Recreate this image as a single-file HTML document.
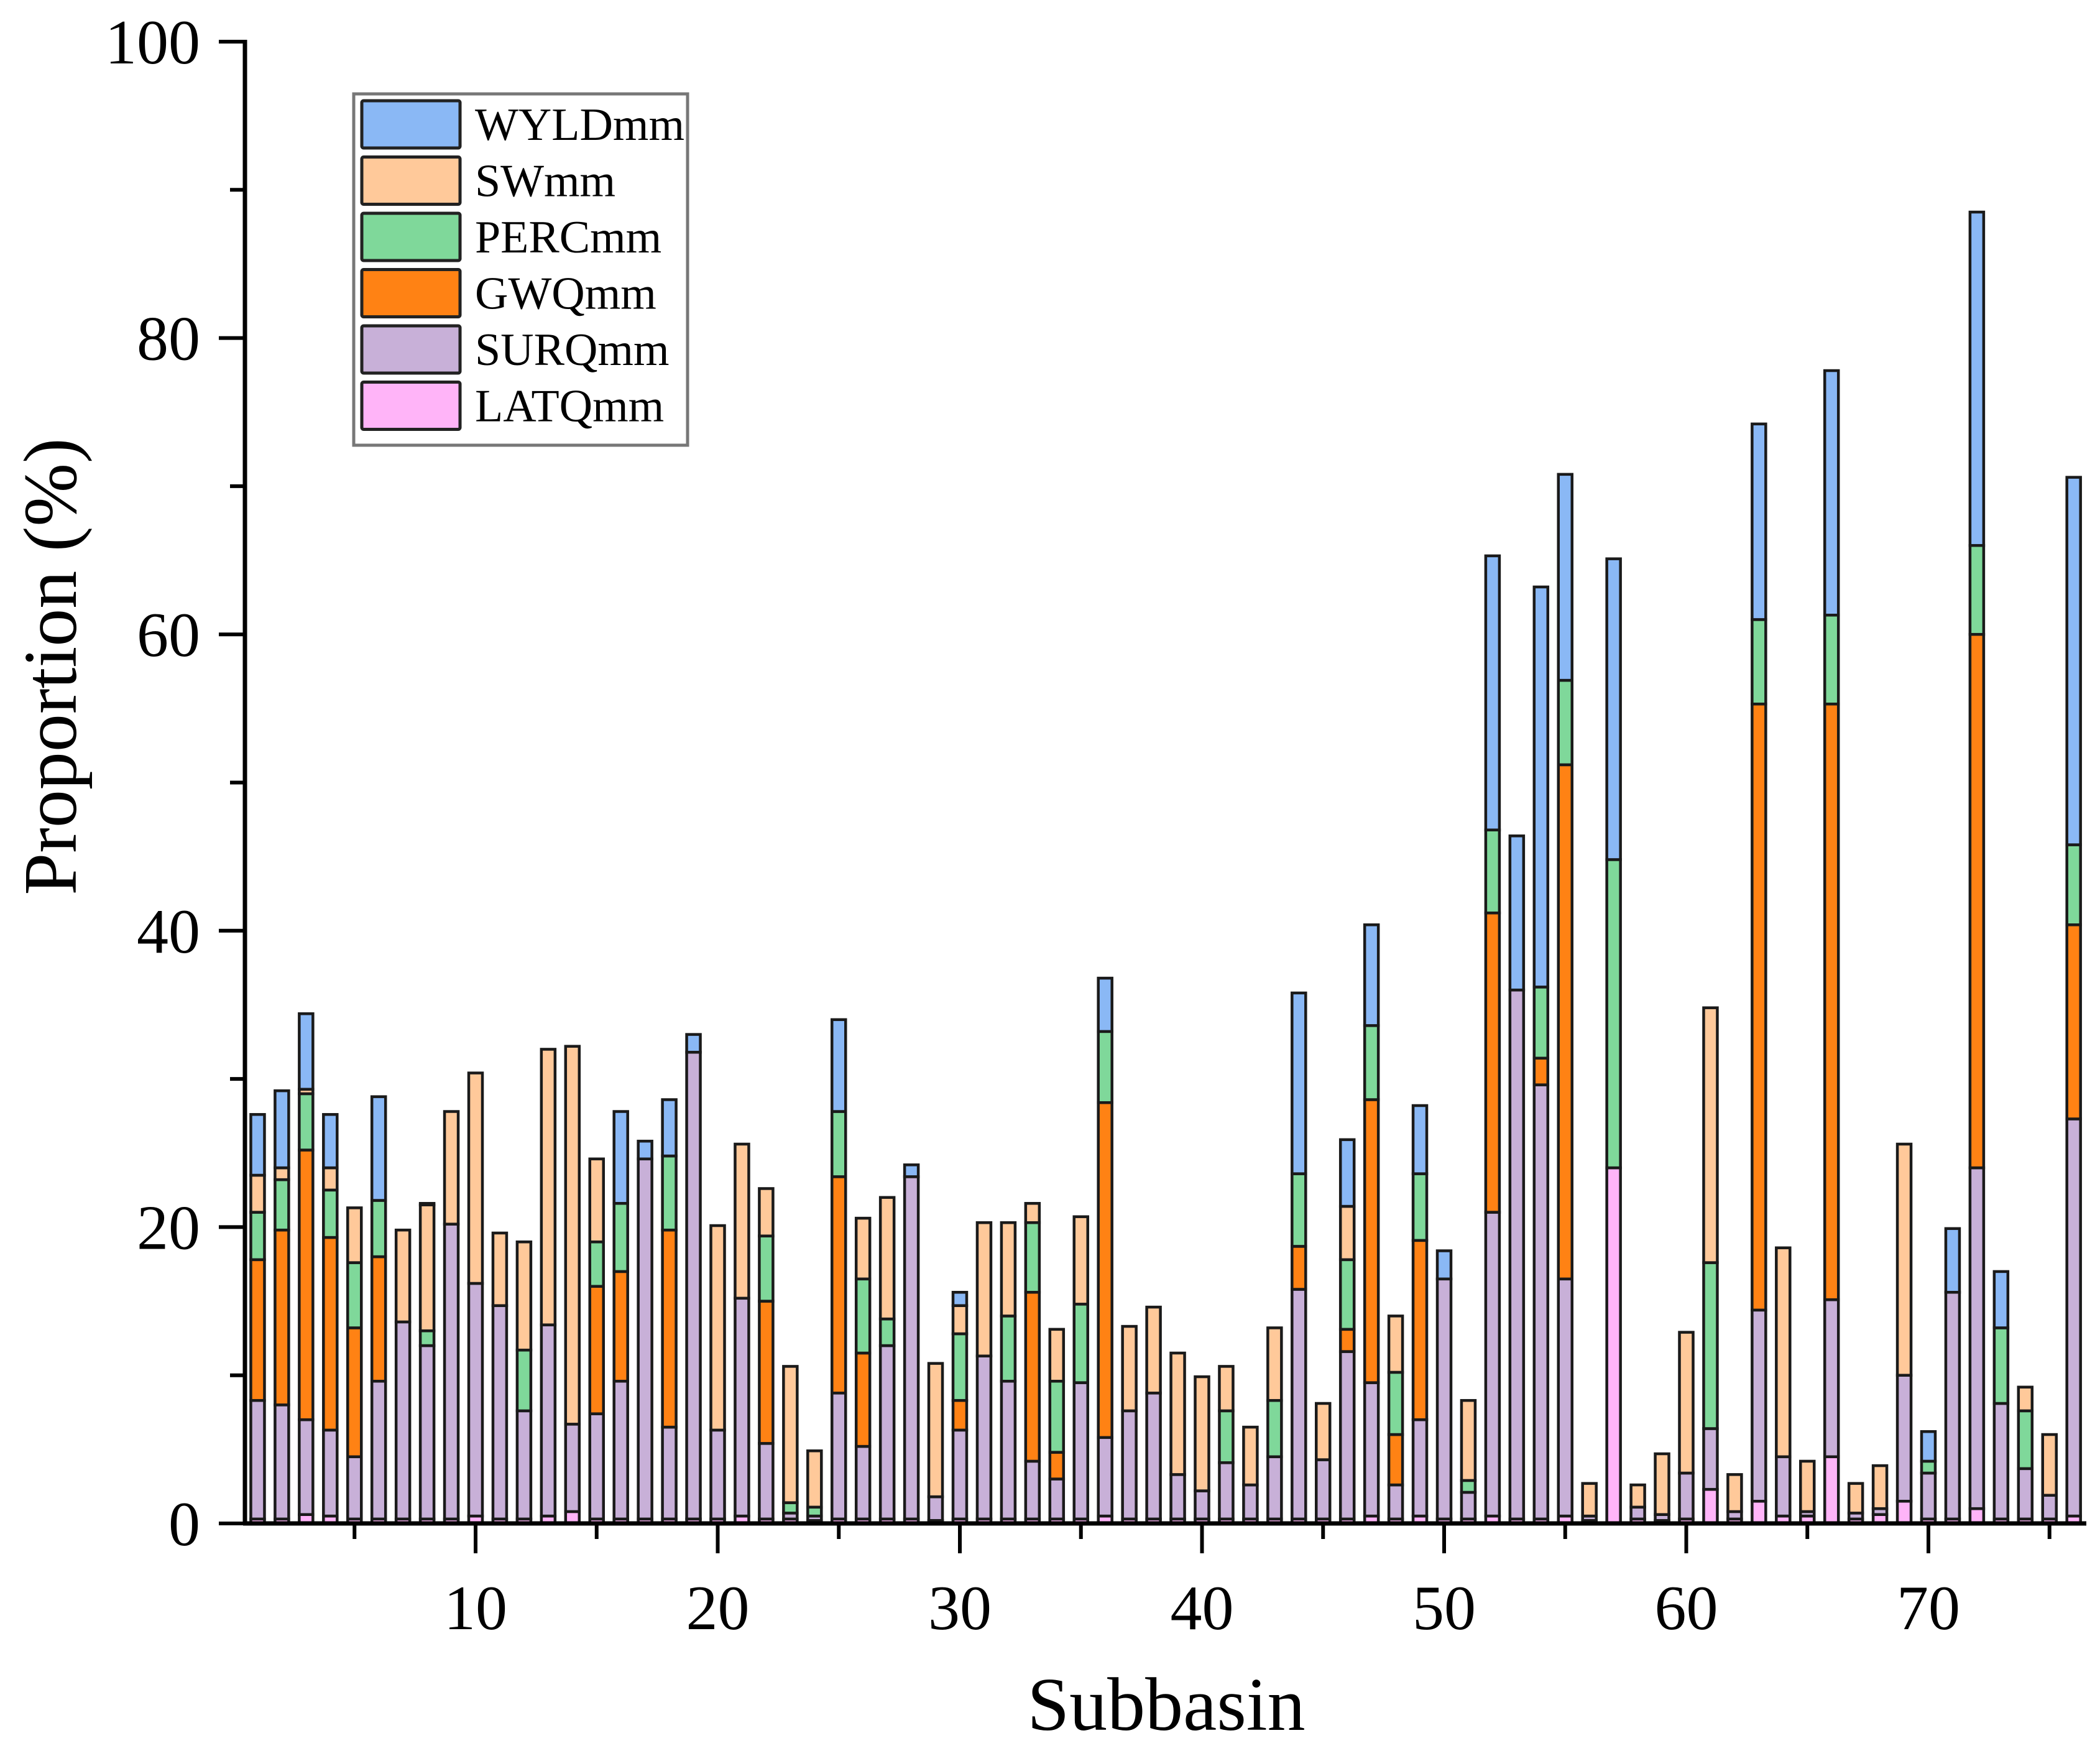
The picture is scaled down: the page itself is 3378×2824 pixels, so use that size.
<!DOCTYPE html>
<html><head><meta charset="utf-8"><style>
html,body{margin:0;padding:0;background:#fff}
svg{display:block}
text{font-family:"Liberation Serif",serif;fill:#000}
</style></head><body>
<svg id="chart" width="3378" height="2824" viewBox="0 0 3378 2824" xmlns="http://www.w3.org/2000/svg">
<g id="bars"></g>
<g id="axes"></g>
<g id="legend"></g>
<text x="0" y="0" font-size="122" text-anchor="middle" transform="translate(122,1072) rotate(-90)">Proportion (%)</text>
<text x="1876" y="2782" font-size="122" text-anchor="middle">Subbasin</text>
</svg>
<script>
// cumulative tops per layer (stack order bottom->top: LATQ, SURQ, GWQ, PERC, SW, WYLD)
const subbasins = Array.from({length:76},(_, i)=>i+1);
const latqTop = [.3,.3,.6,.5,.3,.3,.3,.3,.3,.5,.3,.3,.5,.8,.3,.3,.3,.3,.3,.3,.5,.3,.3,.2,.3,.3,.3,.3,.2,.3,.3,.3,.3,.3,.3,.5,.3,.3,.3,.3,.3,.3,.3,.3,.3,.3,.5,.3,.5,.3,.3,.5,.3,.3,.5,.2,24,.3,.2,.3,2.3,.3,1.5,.5,.5,4.5,.3,.6,1.5,.3,.3,1,.3,.3,.3,.5];
const surqTop = [8.3,8,7,6.3,4.5,9.6,13.6,12,20.2,16.2,14.7,7.6,13.4,6.7,7.4,9.6,24.6,6.5,31.8,6.3,15.2,5.4,.7,.5,8.8,5.2,12,23.4,1.8,6.3,11.3,9.6,4.2,3,9.5,5.8,7.6,8.8,3.3,2.2,4.1,2.6,4.5,15.8,4.3,11.6,9.5,2.6,7,16.5,2.1,21,36,29.6,16.5,.5,24,1.1,.6,3.4,6.4,.8,14.4,4.5,.8,15.1,.7,1,10,3.4,15.6,24,8.1,3.7,1.9,27.3];
const gwqTop = [17.8,19.8,25.2,19.3,13.2,18,13.6,12,20.2,16.2,14.7,7.6,13.4,6.7,16,17,24.6,19.8,31.8,6.3,15.2,15,.7,.5,23.4,11.5,12,23.4,1.8,8.3,11.3,9.6,15.6,4.8,9.5,28.4,7.6,8.8,3.3,2.2,4.1,2.6,4.5,18.7,4.3,13.1,28.6,6,19.1,16.5,2.1,41.2,36,31.4,51.2,.5,24,1.1,.6,3.4,6.4,.8,55.3,4.5,.8,55.3,.7,1,10,3.4,15.6,60,8.1,3.7,1.9,40.4];
const percTop = [21,23.2,29,22.5,17.6,21.8,13.6,13,20.2,16.2,14.7,11.7,13.4,6.7,19,21.6,24.6,24.8,31.8,6.3,15.2,19.4,1.4,1.1,27.8,16.5,13.8,23.4,1.8,12.8,11.3,14,20.3,9.6,14.8,33.2,7.6,8.8,3.3,2.2,7.6,2.6,8.3,23.6,4.3,17.8,33.6,10.2,23.6,16.5,2.9,46.8,36,36.2,56.9,.5,44.8,1.1,.6,3.4,17.6,.8,61,4.5,.8,61.3,.7,1,10,4.2,15.6,66,13.2,7.6,1.9,45.8];
const swTop = [23.5,24,29.3,24,21.3,21.8,19.8,21.5,27.8,30.4,19.6,19,32,32.2,24.6,21.6,24.6,24.8,31.8,20.1,25.6,22.6,10.6,4.9,27.8,20.6,22,23.4,10.8,14.7,20.3,20.3,21.6,13.1,20.7,33.2,13.3,14.6,11.5,9.9,10.6,6.5,13.2,23.6,8.1,21.4,33.6,14,23.6,16.5,8.3,46.8,36,36.2,56.9,2.7,44.8,2.6,4.7,12.9,34.8,3.3,61,18.6,4.2,61.3,2.7,3.9,25.6,4.2,15.6,66,13.2,9.2,6,45.8];
const wyldTop = [27.6,29.2,34.4,27.6,21.3,28.8,19.8,21.6,27.8,30.4,19.6,19,32,32.2,24.6,27.8,25.8,28.6,33,20.1,25.6,22.6,10.6,4.9,34,20.6,22,24.2,10.8,15.6,20.3,20.3,21.6,13.1,20.7,36.8,13.3,14.6,11.5,9.9,10.6,6.5,13.2,35.8,8.1,25.9,40.4,14,28.2,18.4,8.3,65.3,46.4,63.2,70.8,2.7,65.1,2.6,4.7,12.9,34.8,3.3,74.2,18.6,4.2,77.8,2.7,3.9,25.6,6.2,19.9,88.5,17,9.2,6,70.6];
const yTicks = [0,20,40,60,80,100];
const xTicks = [10,20,30,40,50,60,70];
const seriesNames = ["LATQmm","SURQmm","GWQmm","PERCmm","SWmm","WYLDmm"];
const seriesColors = ["#ffb4f8","#c8b0d8","#ff8214","#7fd89a","#ffc99a","#8ab8f5"];

const NS="http://www.w3.org/2000/svg";
const X0=394, XR=3356, Y0=2450, Y100=67;
const xs = i => 765 + (i-10)*(3102-765)/60;
const ys = v => Y0 - v*(Y0-Y100)/100;
function mk(tag, attrs, parent){const e=document.createElementNS(NS,tag);for(const k in attrs)e.setAttribute(k,attrs[k]);parent.appendChild(e);return e;}

const bars=document.getElementById('bars');
const layers=[latqTop,surqTop,gwqTop,percTop,swTop,wyldTop];
const BW=22;
subbasins.forEach((s,i)=>{
  let prev=0;
  layers.forEach((arr,k)=>{
    const top=arr[i];
    if(top>prev+0.01){
      const r=mk('rect',{x:xs(s)-BW/2,y:ys(top),width:BW,height:ys(prev)-ys(top),fill:seriesColors[k],stroke:'#1a1a1a',"stroke-width":4.5},bars);
      
      
      prev=top;
    }
  });
});

const axes=document.getElementById('axes');
const ya=mk('line',{x1:X0,y1:Y100-3,x2:X0,y2:Y0+3,stroke:'#000',"stroke-width":7},axes);


const xa=mk('line',{x1:X0-3,y1:Y0,x2:XR,y2:Y0,stroke:'#000',"stroke-width":7},axes);


for(let v=0;v<=100;v+=10){
  const major=v%20===0;
  mk('line',{x1:X0,y1:ys(v),x2:X0-(major?42:24),y2:ys(v),stroke:'#000',"stroke-width":6},axes);
}
yTicks.forEach(v=>{
  const t=mk('text',{x:322,y:ys(v)+35,"font-size":102,"text-anchor":"end"},axes);
  t.textContent=v;
  
  
});
for(let s=5;s<=75;s+=5){
  const major=s%10===0;
  mk('line',{x1:xs(s),y1:Y0,x2:xs(s),y2:Y0+(major?48:25),stroke:'#000',"stroke-width":6},axes);
}
xTicks.forEach(s=>{
  const t=mk('text',{x:xs(s),y:2620,"font-size":102,"text-anchor":"middle"},axes);
  t.textContent=s;
  
  
});

const lg=document.getElementById('legend');
mk('rect',{x:569,y:151,width:537,height:565,fill:'#fff',stroke:'#777',"stroke-width":5},lg);
const order=[5,4,3,2,1,0];
order.forEach((k,j)=>{
  const y=162+j*90.5;
  const r=mk('rect',{x:582,y:y,width:158,height:76,fill:seriesColors[k],stroke:'#222',"stroke-width":5,rx:3},lg);
  
  
  const t=mk('text',{x:764,y:y+63,"font-size":74},lg);
  t.textContent=seriesNames[k];
  
  
});
</script>
</body></html>
